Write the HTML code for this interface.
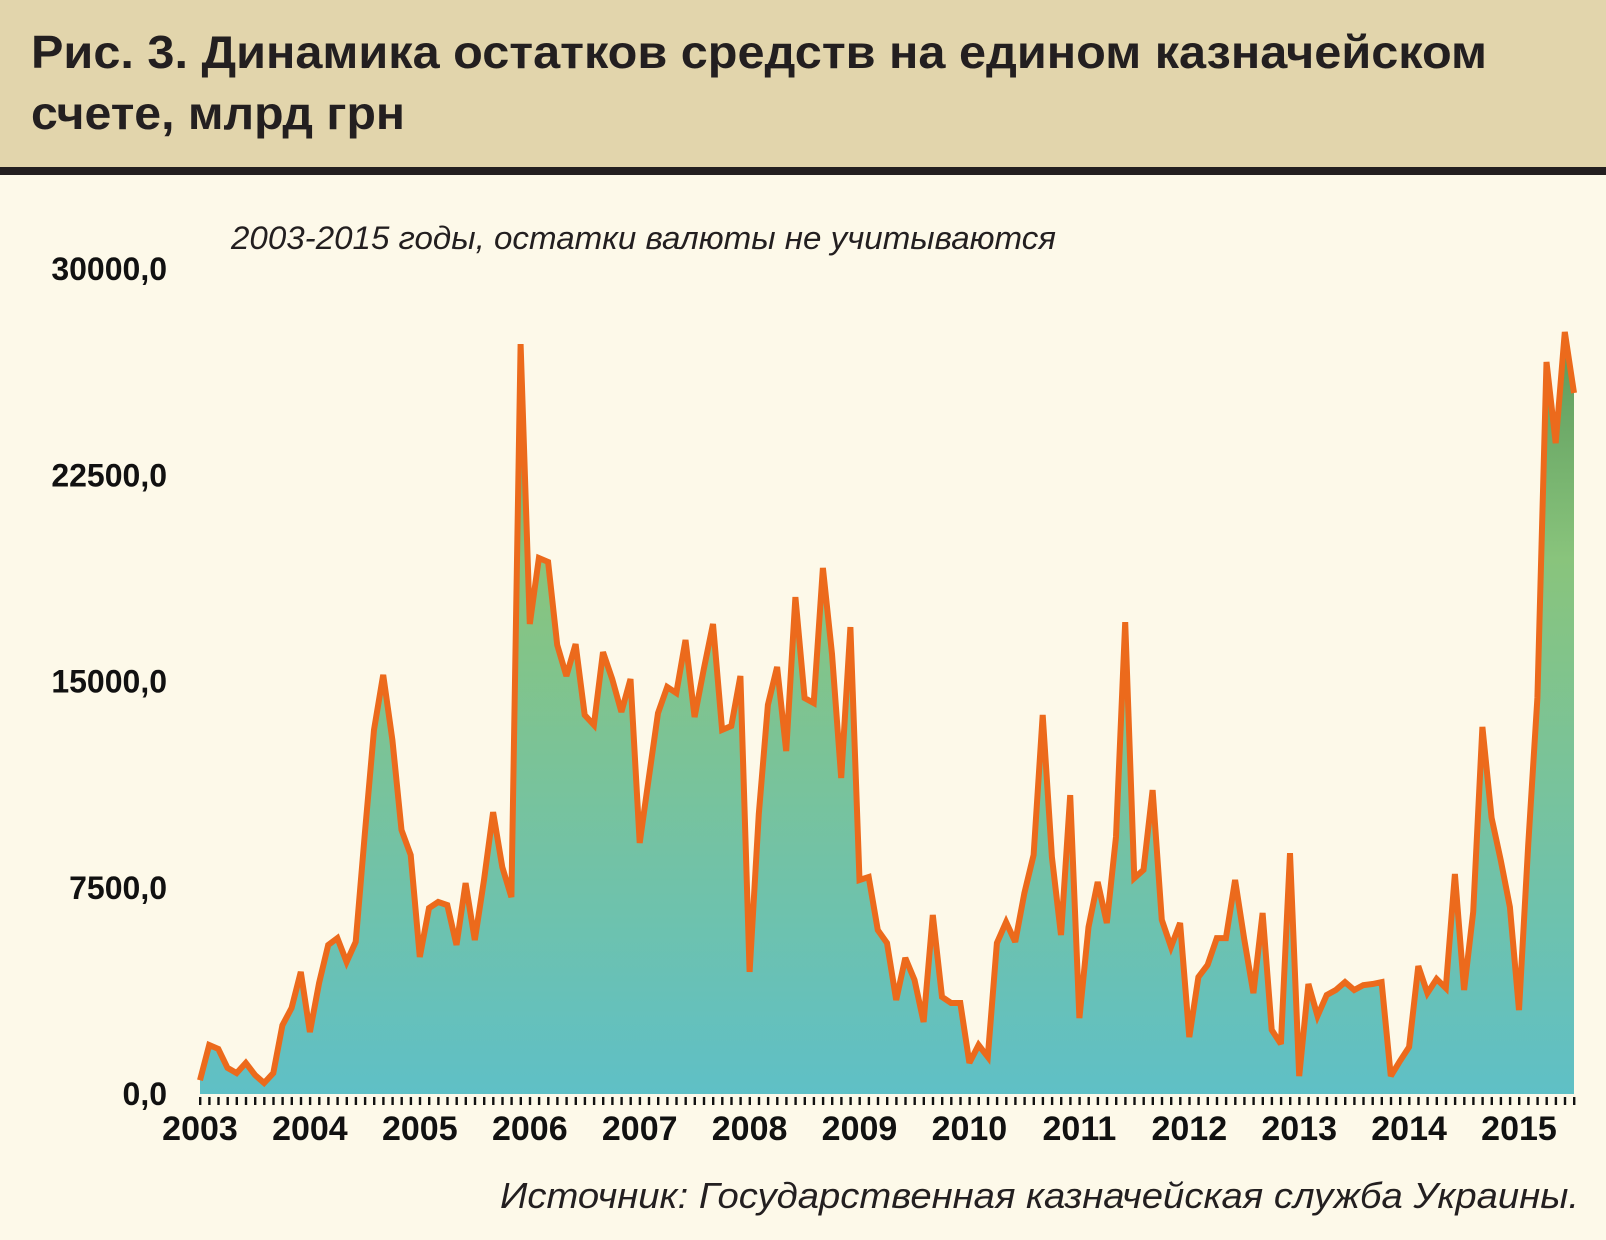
<!DOCTYPE html>
<html><head><meta charset="utf-8"><style>
html,body{margin:0;padding:0;background:#fdf9e9;}
svg{display:block;font-family:"Liberation Sans","DejaVu Sans",sans-serif;}
</style></head><body>
<svg id="chart" width="1606" height="1240" viewBox="0 0 1606 1240" xmlns="http://www.w3.org/2000/svg">
<defs>
<linearGradient id="areaGrad" gradientUnits="userSpaceOnUse" x1="0" y1="330" x2="0" y2="1094">
<stop offset="0" stop-color="#5a985a"/>
<stop offset="0.3" stop-color="#89c47c"/>
<stop offset="0.6" stop-color="#78c39c"/>
<stop offset="1" stop-color="#5fc0c6"/>
</linearGradient>
</defs>
<rect x="0" y="0" width="1606" height="168" fill="#e2d5ac"/>
<rect x="0" y="167" width="1606" height="8" fill="#231f20"/>
<text x="31" y="68" font-size="46" font-weight="bold" fill="#231f20" textLength="1456" lengthAdjust="spacingAndGlyphs">Рис. 3. Динамика остатков средств на едином казначейском</text>
<text x="31" y="129" font-size="46" font-weight="bold" fill="#231f20" textLength="374" lengthAdjust="spacingAndGlyphs">счете, млрд грн</text>
<text x="231" y="249" font-size="32" font-style="italic" fill="#231f20" textLength="825" lengthAdjust="spacingAndGlyphs">2003-2015 годы, остатки валюты не учитываются</text>
<g id="yaxis"></g>
<g id="plot"></g>
<g id="xaxis"></g>
<text x="1579" y="1208" text-anchor="end" font-size="36" font-style="italic" fill="#231f20" textLength="1079" lengthAdjust="spacingAndGlyphs">Источник: Государственная казначейская служба Украины.</text>
</svg>
<script>
const values = [500,1780,1640,950,760,1130,690,400,760,2500,3130,4440,
2250,4040,5420,5670,4800,5530,9490,13240,15240,12870,9600,8690,
4980,6760,6980,6870,5420,7670,5600,7780,10250,8250,7160,27270,
17090,19490,19350,16330,15200,16360,13780,13420,16070,15090,13890,15090,
9130,11490,13850,14800,14580,16510,13710,15450,17090,13240,13380,15200,
4440,10180,14150,15530,12470,18070,14400,14220,19130,16000,11490,16980,
7780,7890,5960,5490,3420,4950,4150,2620,6510,3530,3310,3310,
1130,1780,1350,5490,6250,5530,7310,8690,13780,8620,5780,10870,
2760,6070,7710,6220,9350,17160,7850,8150,11050,6330,5350,6220,
2070,4250,4690,5670,5670,7780,5640,3670,6580,2330,1820,8760,
650,4000,2840,3600,3780,4070,3780,3960,4000,4070,
650,1200,1710,4650,3670,4180,3850,8000,3780,6620,13350,10040,8510,6800,
3050,9050,14400,26620,23670,27710,25490];
const yTicks = [0,7500,15000,22500,30000];
const yTickLabels = ["0,0","7500,0","15000,0","22500,0","30000,0"];
const years = ["2003","2004","2005","2006","2007","2008","2009","2010","2011","2012","2013","2014","2015"];

const NS="http://www.w3.org/2000/svg";
const X0=200, X1=1574, Y0=1094, Y1=269, VMAX=30000;
const step=(X1-X0)/(values.length-1);
function xs(i){return X0+i*step;}
function ys(v){return Y0-(v/VMAX)*(Y0-Y1);}
function mk(tag,attrs,parent){const e=document.createElementNS(NS,tag);for(const k in attrs)e.setAttribute(k,attrs[k]);parent.appendChild(e);return e;}

const plot=document.getElementById('plot');
let pts=values.map((v,i)=>xs(i).toFixed(1)+','+ys(v).toFixed(1));
const area=mk('polygon',{points:X0+','+Y0+' '+pts.join(' ')+' '+xs(values.length-1)+','+Y0,fill:'url(#areaGrad)'},plot);


const line=mk('polyline',{points:pts.join(' '),fill:'none',stroke:'#ec6a1c','stroke-width':6,'stroke-linejoin':'miter','stroke-miterlimit':3},plot);



const yaxis=document.getElementById('yaxis');
yTicks.forEach((t,k)=>{
  const tx=mk('text',{x:167,y:(ys(t)+11).toFixed(1),'text-anchor':'end','font-size':32,'font-weight':'bold',fill:'#111'},yaxis);
  tx.textContent=yTickLabels[k];
  
  
});

const xaxis=document.getElementById('xaxis');
for(let i=0;i<values.length;i++){
  const tk=mk('rect',{x:(xs(i)-1).toFixed(1),y:Y0+3,width:2.4,height:8,fill:'#111'},xaxis);
  
  
}
years.forEach((y,k)=>{
  const tx=mk('text',{x:xs(k*12).toFixed(1),y:1140,'text-anchor':'middle','font-size':34,'font-weight':'bold',fill:'#111'},xaxis);
  tx.textContent=y;
  
  
});
</script>
</body></html>
